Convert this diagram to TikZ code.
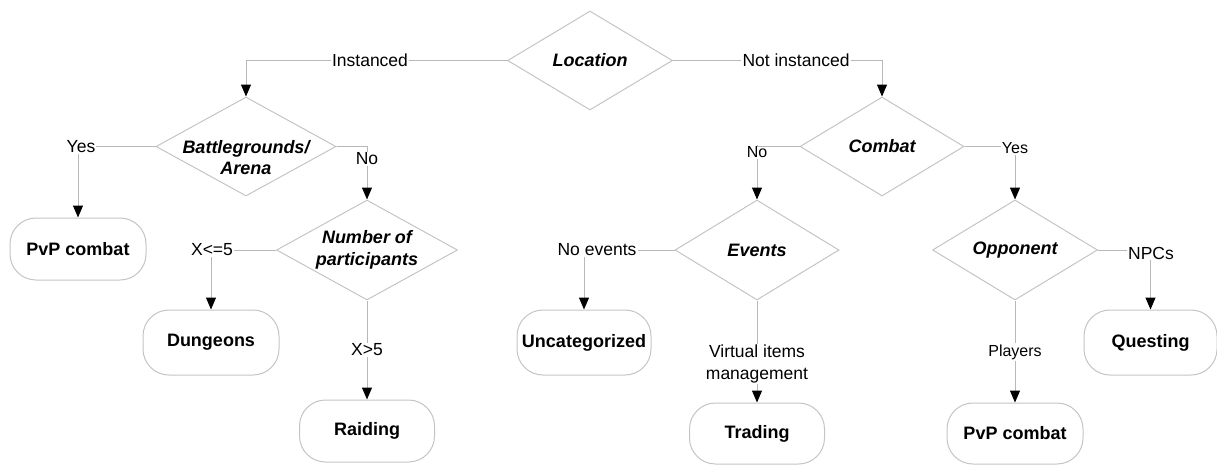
\documentclass[tikz,border=0pt]{standalone}
\usepackage{fontspec}
\setmainfont{Liberation Sans}
\usetikzlibrary{shapes.geometric,arrows.meta}
\definecolor{edgegray}{HTML}{B8B8B8}
\definecolor{shapegray}{HTML}{C4C4C4}
\begin{document}
\begin{tikzpicture}[x=1pt,y=-1pt,
  decision/.style={draw=shapegray,line width=1pt,diamond,inner sep=0pt,minimum width=#1},
  dtext/.style={font=\fontsize{18}{21.5}\selectfont\bfseries\itshape,align=center,inner sep=0pt},
  leaf/.style={draw=shapegray,line width=1pt,rounded corners=26pt,minimum width=136pt,minimum height=63pt,
    font=\fontsize{18}{21}\selectfont\bfseries,inner sep=0pt},
  lbl/.style={font=\fontsize{17.5}{22}\selectfont,inner sep=1pt,align=center},
  slbl/.style={font=\fontsize{16}{19}\selectfont,inner sep=1pt,align=center},
  link/.style={draw=edgegray,line width=1pt},
  arr/.style={link,-{Triangle[length=12pt,width=10pt,color=black,fill=black]}}]
\useasboundingbox (0,0) rectangle (1217,464);

% decision diamonds
\node[decision=165pt,minimum height=99pt] (loc) at (590,60.5) {};
\node[dtext] at (loc) {Location};
\node[decision=180pt,minimum height=99pt] (bat) at (246,146.5) {};
\node[dtext] at (246,157.5) {Battlegrounds/\\Arena};
\node[decision=181pt,minimum height=100pt] (num) at (367,250) {};
\node[dtext] at (num) {Number of\\participants};
\node[decision=164pt,minimum height=99pt] (com) at (882,146.5) {};
\node[dtext] at (com) {Combat};
\node[decision=164pt,minimum height=100pt] (evt) at (757,250) {};
\node[dtext] at (evt) {Events};
\node[decision=165pt,minimum height=100pt] (opp) at (1015,250) {};
\node[dtext] at (opp) {Opponent};

% outcome boxes
\node[leaf,minimum height=62pt] (pvpa) at (78,249) {PvP combat};
\node[leaf,minimum height=65pt] (dun) at (211,342.5) {Dungeons};
\node[leaf,minimum height=62pt,minimum width=135pt] (rai) at (367,431) {Raiding};
\node[leaf,minimum height=65pt,minimum width=134pt] (unc) at (584,342.5) {Uncategorized};
\node[leaf,minimum height=61pt,minimum width=135pt] (trd) at (757,433.5) {Trading};
\node[leaf,minimum height=61pt] (pvpb) at (1015,433.5) {PvP combat};
\node[leaf,minimum height=65pt,minimum width=133pt] (qst) at (1150.5,342.5) {Questing};

% branch labels
\node[lbl] (inst) at (370,60.5) {Instanced};
\node[lbl] (ninst) at (796,60.5) {Not instanced};
\node[lbl] (yesa) at (81,146.5) {Yes};
\node[lbl] (noa) at (367,159) {No};
\node[lbl] (lefive) at (212,250) {X<=5};
\node[lbl] (gtfive) at (367,350) {X>5};
\node[slbl] (nob) at (757,152) {No};
\node[slbl] (yesb) at (1015,148) {Yes};
\node[lbl] (noev) at (597,250) {No events};
\node[lbl] (vim) at (757,364) {Virtual items\\management};
\node[lbl] (npc) at (1151,253) {NPCs};
\node[slbl] (ply) at (1015,352) {Players};

% connectors
\draw[link] (loc.west) -- (inst.east);
\draw[arr] (inst.west) -| (bat.north);
\draw[link] (loc.east) -- (ninst.west);
\draw[arr] (ninst.east) -| (com.north);

\draw[link] (bat.west) -- (yesa.east);
\draw[arr] (yesa.south -| pvpa.north) -- (pvpa.north);
\draw[link] (bat.east) -| (noa.north);
\draw[arr] (noa.south) -- (num.north);

\draw[link] (num.west) -- (lefive.east);
\draw[arr] (lefive.south -| dun.north) -- (dun.north);
\draw[link] (num.south) -- (gtfive.north);
\draw[arr] (gtfive.south) -- (rai.north);

\draw[link] (com.west) -| (nob.north);
\draw[arr] (nob.south) -- (evt.north);
\draw[link] (com.east) -- (com.east -| yesb.west);
\draw[arr] (yesb.south) -- (opp.north);

\draw[link] (evt.west) -- (noev.east);
\draw[arr] (noev.south -| unc.north) -- (unc.north);
\draw[link] (evt.south) -- (vim.north);
\draw[arr] (vim.south) -- (trd.north);

\draw[link] (opp.east) -- (opp.east -| npc.west);
\draw[arr] (npc.south -| qst.north) -- (qst.north);
\draw[link] (opp.south) -- (ply.north);
\draw[arr] (ply.south) -- (pvpb.north);
\end{tikzpicture}
\end{document}
